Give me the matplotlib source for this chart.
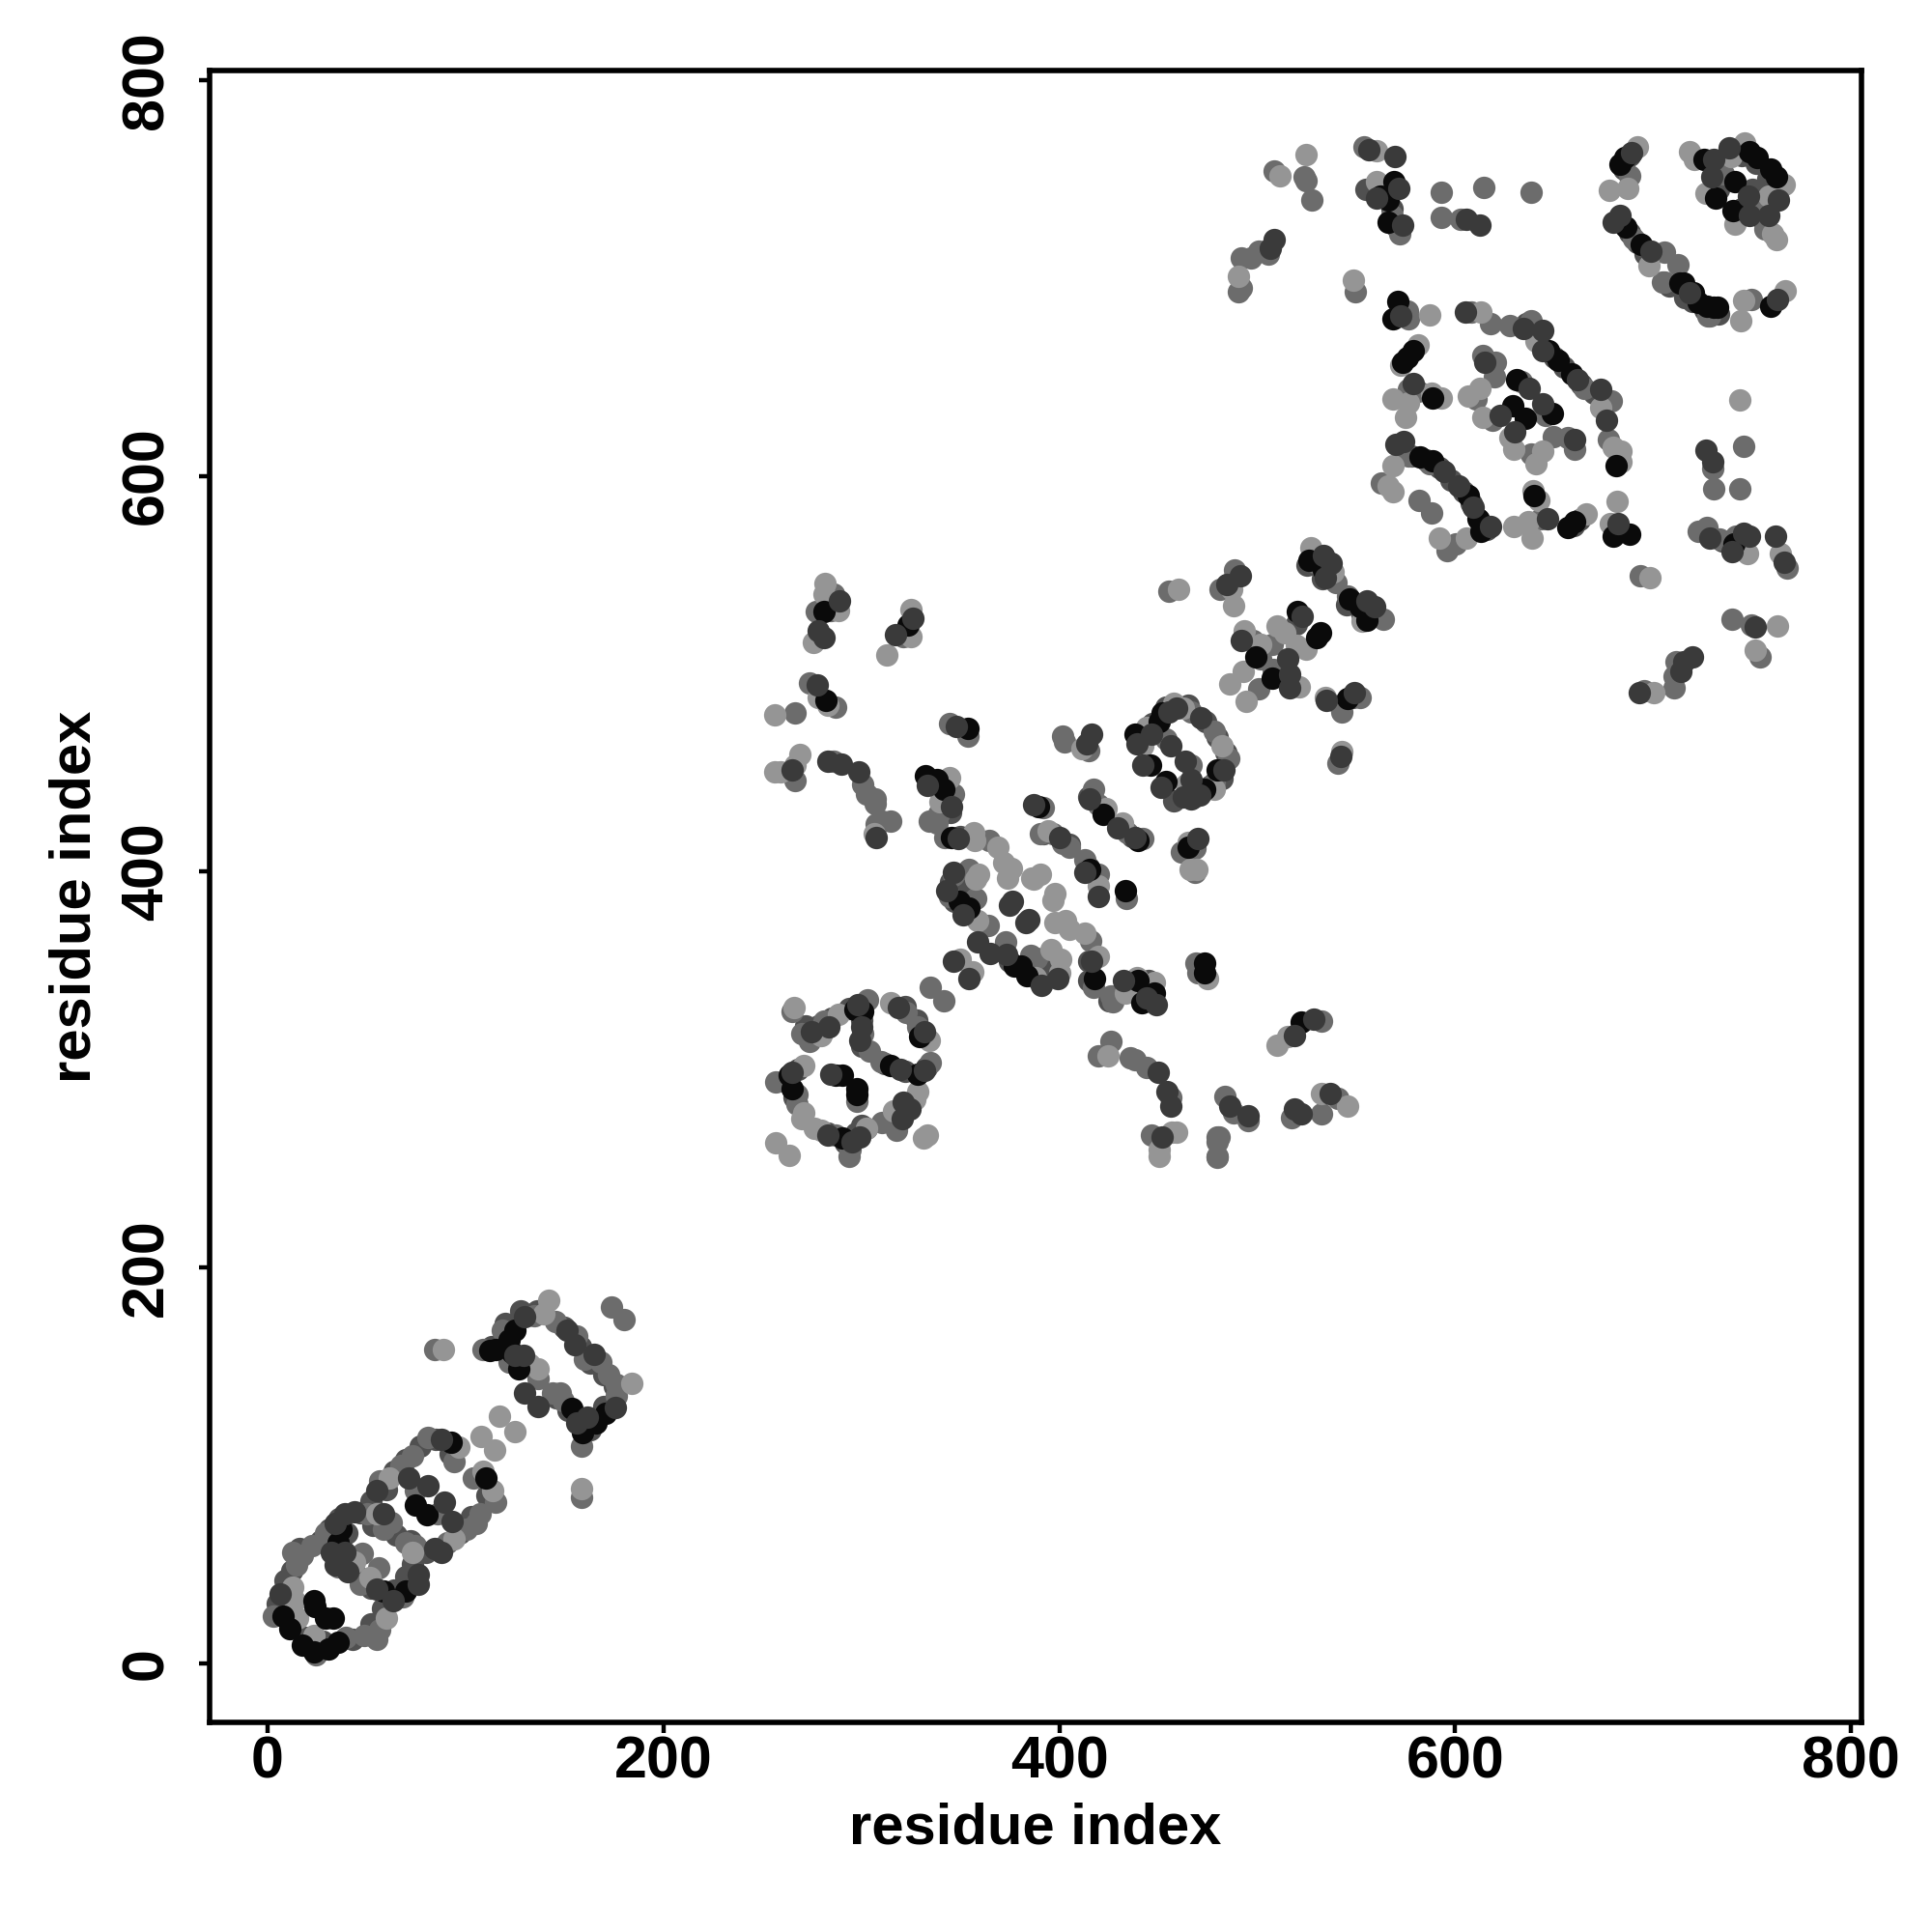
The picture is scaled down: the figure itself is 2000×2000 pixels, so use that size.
import numpy as np
import matplotlib
matplotlib.use('Agg')
import matplotlib.pyplot as plt

plt.rcParams['font.family'] = ['Liberation Sans', 'DejaVu Sans']
plt.rcParams['font.weight'] = 'bold'

# contacts, split by grey level
light_pts = [
    (13.6,31.9),(12.8,38.4),(15.3,23),(23.4,14),(60,23),(94.2,62.8),(108.8,97),(113.7,87.2),
    (43.7,51.4),(51.9,43.3),(61.6,93.7),(96.6,109.2),(55.1,75.8),(73,56.3),(89,158.5),(108,114.5),
    (114.5,107.9),(117,124.9),(125,117),(158.4,88.5),(142.2,183.7),(184,141.7),(139.7,176.7),
    (157.6,123),(132.4,151.5),(136.5,149),
    (256.9,263),(263.4,256.7),(265.8,331.2),(279.6,317.4),(288.6,328),(334.1,315),(314.6,333.7),
    (270.7,278.4),(269.9,275.1),(276.4,270.2),(279.6,269.4),(302.4,270.2),(316.2,279.2),(326.8,284.9),
    (328.4,289),(331.4,265.4),(333.3,267),(270.7,302),
    (349.9,356),(356.4,349.5),(387.8,346.7),(396,360.5),(400,349.1),(400.8,355.6),(397.6,389),
    (396.8,385.7),(397.6,374.4),(403.3,375.2),(404.9,371.1),(413,369),(419.6,357),(433.4,338.6),
    (439.1,346.7),(448,344.3),(357.7,396.3),(374,397),(387,396.3),(419.6,393),(358.5,375.2),
    (424.4,306.8),(457,268.6),(459.4,268.6),(450.4,256.4),(450.4,259.7),(474.9,345.9),
    (509.8,312.5),(515.5,316.6),(532.6,288.1),(545.6,281.6),(465.1,415),(465.9,401.2),(469.6,401.2),
    (281.8,545.6),(281.3,540.2),(288.6,532.1),(275.6,515.8),(324.9,532.6),(324.9,518.6),(313,509.3),
    (278.3,488.2),(282.9,484.1),(256,479.5),(256,450.7),(259.3,450.7),(266.6,454),(269.1,459.2),
    (306.5,419),(344.7,447.5),(339.8,435.3),(356.9,419.8),(357.4,415.8),(368.8,412.5),(372,404.4),
    (375.6,401.5),(386.2,397),(390.3,398.7),(359.4,398.7),(394.3,420.6),(423.6,432),(431.7,424.7),
    (411.4,462.1),(460.2,542.7),
    (457.8,485),(444,472.8),(442.4,463.8),(462.7,482.6),(482.2,463.8),(478.2,441.9),(464.3,444.3),
    (527,563.9),(538.4,551.7),(487.1,542.7),(487.9,534.6),(553,526.5),(524.5,512.6),(519.6,514.3),
    (514,520.8),(509.9,524),(501.7,515.1),(493.6,521.6),(492.8,501.3),(486.3,494.7),(494.4,486.3),
    (521.3,493.6),(534.3,488.2),(542.9,460.6),
    (581.5,666.4),(572.5,655.8),(587.1,681.5),(568.4,638.7),(576.6,637.1),(574.9,629.5),(588,642),
    (592.8,639.2),(613.2,682.7),(640.8,668),(673.4,634.7),(679.9,614.3),(683.9,612.7),(683.9,607),
    (612.4,644.4),(606.7,640.4),(614,629.8),(627.8,619.2),(629.4,613.5),(644.1,612.7),(640.8,606.2),
    (568.4,605.4),(568.4,592),(566,594.8),(592,568.8),(605.9,568.8),(639.2,592.4),(642.5,587.5),
    (629.4,574.5),(636.8,576.9),(638.9,568.5),(666,581),(681.8,587.2),(678.2,576.1),(698.6,548.8),
    (747.9,560.6),(764.5,560.6),(744.1,678.6),(745.8,688.8),(766.9,693.7),(743.8,638.4),(762.8,524.4),
    (751.8,511.8),(700.2,490.6),(524.9,762.4),(511.4,751.5),(560.5,764.5),(560.5,748.6),(490.3,700.6),
    (548.5,698.9),(692.2,766.4),(687.4,745.3),(677.8,744.2),(698,706.2),(718.2,764),(721,759.9),
    (746,768.1),(739.3,761.6),(766.2,747.3),(758.5,741.2),(726.8,742.9),(741.6,727.4),(760.5,722.5),
    (762.4,719.3),
]
mid_pts = [
    (3.1,23.8),(12.8,56.3),(14.5,49.8),(17.7,54.7),(22.6,59.6),(24.2,4.2),(24.2,9.1),(39.7,13.2),
    (48.6,14),(55.1,12.4),(56.8,17.2),(68.1,33.5),(90.9,61.2),(100.7,67.7),(105.6,70.9),(107.2,75.8),
    (115.3,81.5),(103.9,93.7),(86,75.8),(47.8,55.5),(35.6,49),(56,48.2),(47,40),(29.1,66),(50.2,75.8),
    (56.8,92.1),(67.3,100.2),(73,105.1),(81.2,114),(94.2,101.8),(74.6,87.2),(62.4,71),(58.4,67.7),
    (69.8,61.2),(74.6,59.6),(84.4,158.5),(158.4,83.9),(173.9,179.9),(180,173.8),(108.8,158.5),
    (118.6,168.5),(134.8,175.9),(145.4,172.6),(156,165.3),(160,153.9),(168.2,152.3),(172.3,145.8),
    (176.3,140.9),(176.3,135.2),(158.4,110),(147.9,136.8),(143.8,136.8),(149.5,132.8),(121.8,152.3),
    (136.5,144.1),
    (265,329.6),(269.9,318.2),(274,314.2),(281.3,324.7),(303.2,335.3),(300.8,318.2),(304,309.6),
    (309.7,303.9),(335,303.6),(328.4,321.5),(322.8,328.8),(256.9,293.8),(267.4,287.3),(267.4,282.4),
    (287,267),(302.4,270.2),(294,256.4),(294.3,259.7),(297.9,284),(310.6,273.5),(317.9,269.4),
    (335,341.8),(341.8,334.8),(372.7,364.6),(385.4,357.6),(388.6,356.5),(416,365.1),(417.1,341.8),
    (426.1,337),(426.9,334.5),(346.3,398),(357.7,386.6),(344.7,387.4),(364.2,372.7),(418.7,398),
    (433.9,386.6),(419.6,306.8),(426.1,314.2),(435.8,306),(438.3,305.2),(444,301.2),(456.1,286),
    (446.4,267),(479.7,266.2),(479.7,256),(468.4,399.6),(469.2,354),(470,349.1),
    (532.6,324.7),(483.8,286.5),(487.9,278.3),(495.2,274.3),(517.1,275.9),(532.6,277.5),(540.7,285.7),
    (480.5,266.1),(479.7,255.6),(480,263.7),(468.3,411.7),(461.8,410.1),
    (286.1,540.2),(277.2,531.3),(284.5,532.1),(321.1,519),(274,495.5),(287,483.3),(266.6,480),
    (266.6,445.9),(286.1,455.6),(300.8,444.2),(307,436.9),(307,434.5),(302.4,439.4),(307.3,423.9),
    (314.6,425.5),(310.6,425.5),(344.7,475.1),(353.7,468.6),(346.3,439.4),(339,429.6),(334.1,425.5),
    (338.2,424.7),(342.3,417.4),(364.6,415.8),(354.5,401.1),(391.9,432.4),(390.3,419),(404.9,412.5),
    (401.6,414.1),(396.8,419),(412.7,406),(419.6,398.7),(417.1,441.8),(419.6,433.7),(434.2,419.8),
    (442.3,416.6),(401.6,468.6),(402.5,465.4),(414.7,461.3),(455.3,541.8),
    (453.8,467.1),(466.8,480.9),(478.2,471.2),(485.5,457.3),(478.2,445.1),(466.8,454.1),
    (530.2,555.8),(539.7,546),(545.7,539.5),(563.6,527.8),(488.7,552.5),(481.4,542.7),(507.4,515.1),
    (497.7,516.7),(501.7,507.8),(500.9,492.6),(508.3,502),(541.6,484.2),(552.2,488.2),(542.9,480.9),
    (540.8,454.9),
    (575.8,683.5),(576.6,679.4),(581.5,642.8),(576.6,643.6),(608.3,682.7),(618,677),(627.8,676.1),
    (638.4,678.6),(665.2,644.4),(679.1,637.9),(677.4,618.4),(614,660.7),(620.5,657.4),(619.7,650.1),
    (610.7,638.7),(633.5,647.7),(645.7,630.6),(618.9,628.2),(649.8,620),(657.1,619.2),(660.3,613.5),
    (638.4,611.1),(576.6,610.3),(587.1,606.2),(562.7,596.4),(581.8,587.8),(588,581.5),(596.1,562.3),
    (600.2,565.5),(643.3,578.5),(693.7,549.7),(745.7,614.7),(730.3,603.8),(730.6,593.5),(743.8,593.5),
    (723,572),(727,573.7),(733.6,568),(741.7,569.6),(767.7,553.3),(705.9,698.1),(728.7,681),
    (749.8,689.2),(739.7,527.5),(749.5,524.8),(753.9,508.5),(711.6,506),(710.8,498.7),(710.8,492.7),
    (695.3,491.4),(508.5,754.2),(523.9,751),(524.9,749.4),(527.8,739.3),(553.7,766.4),(568.2,731.5),
    (572,722.5),(593.2,743.3),(614.3,745.6),(638.4,743.3),(593.2,730.7),(602.8,729.5),(500.9,713.6),
    (492.2,710.3),(497,710.3),(505.7,712),(492.2,694.9),(490.3,693.2),(549.5,693.2),(688.4,751.8),
    (690.3,720.1),(705.7,713.2),(712.4,706.6),(704.7,698.1),(727.8,681),(735.5,752.6),(750.8,738),
    (756.6,725),
]
dark_pts = [
    (6.3,35.1),(63.3,31.9),(76.3,40),(76.3,44.9),(84.4,57.9),(87.7,56.3),(81.2,89.6),(89.3,81.5),
    (93.4,71.8),(38.9,56.3),(40.5,46.5),(55.1,37.6),(34,70.9),(38.9,75.8),(43.7,76.6),(55.1,87.2),
    (87.7,113.2),(71.4,93.7),(58.4,75.8),(32.4,56.3),(34,49.8),(130,136.8),(136.8,129.8),(130,175),
    (151.1,168.5),(155.2,161.2),(164.9,156.3),(175.5,129.5),(161.7,124.6),(156,121.4),(125,155.5),
    (129.1,155.5),
    (274.8,319),(283.7,321.5),(298.4,332.9),(300,321.5),(299.2,315),(319.5,300.3),(331.7,299.5),
    (331.7,319),(318.7,331.2),(265,298.7),(282.9,267),(295.1,263.7),(299.2,266.2),(284.5,297.9),
    (320.6,275.1),(321.1,283.3),(324.4,280),(346.3,354.8),(354.5,345.9),(365,358.6),(373.2,358),
    (391.1,342.6),(399.2,345.9),(376.4,384.9),(374.8,383.3),(384.6,376),(383,374.4),(416.3,354.8),
    (432.6,345),(448.8,332.9),(444,336.1),(343.1,390.6),(351.2,378.4),(358.5,364.6),(413,399.6),
    (419.6,387.4),(450.1,298.7),(454.5,289),(456.1,281.6),(452.1,266.2),
    (518.8,317.4),(528.5,325.5),(486.2,281.6),(495.2,276.7),(518.8,280),(522,277.5),(536.7,288.1),
    (470,416.6),(288.9,537),(278,521.5),(280.9,518.3),(326,528.3),(317,519.6),(277.7,494.2),
    (265,451.5),(282.9,455.6),(289.9,454.5),(298.8,450.3),(307.3,417.4),(348,473.5),(333.3,443.4),
    (345.5,432.9),(348.8,416.6),(346.3,399.5),(387,433.7),(400,417.4),(415.5,436.9),(429.3,422.3),
    (438.3,417.4),(416.3,469.5),(413.9,464.6),
    (455.4,480.9),(446.4,469.5),(439.1,464.6),(456.2,463.5),(471.7,477.7),(459.4,482.6),(483,451.6),
    (466.8,446.8),(462.7,437.8),(466.8,437),(470.8,438.6),(442.4,454.1),(451.3,442.7),(463.5,455.7),
    (533.5,559.8),(537.5,555.8),(534.3,548.4),(555.4,537),(559.5,533.8),(491.5,549.6),(484.7,545.2),
    (522.9,528.9),(515.6,507.8),(492,516.7),(516.4,499.6),(516.4,493.1),(535.1,486.6),(548.9,490.7),
    (542.4,458.1),
    (572.5,681),(579,646.9),(605,682.7),(634.3,674.5),(644.1,673.7),(644.1,663.1),(662,648.5),
    (673.4,643.6),(676.6,628.2),(614.8,657.4),(637.6,644.4),(644.1,636.3),(622.9,630.6),(630.3,622.5),
    (660.3,618.4),(570,616),(574.1,617.6),(594.5,602.1),(601.8,594.8),(609.1,584.2),(618,574.5),
    (646.5,578.5),(682.3,576.1),(726.7,613),(730,607),(728.7,568.8),(745.7,571.2),(748.5,569.6),
    (740.1,561.5),(761.7,569.6),(766.1,556.6),(762.8,689.2),(751.8,523.6),(719.7,508.5),(715.7,506),
    (714,501.2),(692.9,490.6),(556.6,764.8),(569.5,761.6),(571.6,745.3),(560.5,740.4),(573.4,726.6),
    (605.7,729.5),(612.4,726.6),(508.5,719.6),(506.6,715.2),(689.3,763.2),(683.5,731.5),(679.7,728.2),
    (698.9,713.6),(718.2,692.4),(738.4,765.6),(730.7,759.9),(763.4,739.3),(729.7,751),(748,741.2),
    (748.9,731.5),(758.5,731.5),
]
black_pts = [
    (11.2,17.3),(7.9,23.8),(17.7,9.1),(23.4,5.9),(30.7,7.5),(35.6,10.7),(58.4,36.8),(69.8,36.8),
    (110.4,93.7),(23.4,31.9),(23.9,28.6),(29.1,23),(33.2,23),(74.6,79.9),(80.3,75),(35.6,61.2),
    (37.2,67.7),(92.5,111.6),(115.3,158.8),(112,158),(121.8,163.7),(125,168.5),(170.6,126.2),
    (165.7,121.4),(159.2,116.5),(153.5,128.7),(123.4,157.2),(126.7,149),
    (296.7,330.4),(300.8,329.6),(314.6,302),(328.4,297.9),(329.3,316.6),(263.4,297),(265,290.6),
    (290.2,265.4),(287,297.4),(290.2,297),(297.5,290.6),(297.5,287.3),(377.3,352.4),(380.5,352.4),
    (383.8,347.5),(417.6,345.9),(439.9,345),(448,338.6),(441.5,333.7),(433.4,390.6),(349.6,385),
    (354.5,381.7),(473.2,354),(473.2,349.1),
    (522,323.9),(465.1,412.5),(281.3,531.3),(323.6,524.8),(282.1,486.5),(354,472.4),(332.5,448.3),
    (338.2,446.7),(341.5,441.8),(345.5,417.4),(389.4,432.9),(415.5,401.1),(422,428.8),(439.9,415.8),
    (452.1,480.1),(450.5,476),(438.3,469.5),(479.8,451.6),(473.3,441.9),(446,453.8),(453.8,445.5),
    (526.2,557.4),(533.5,552.5),(546.5,537.9),(552.2,533.8),(555.4,527.3),(520.5,531.4),(531.8,520.8),
    (530.2,518.3),(499.3,508.6),(507.4,498),(545.7,487.4),
    (570.9,688.3),(568.4,679.4),(579,663.1),(575.8,659.9),(573.3,657.4),(588.8,639.5),(647.3,663.1),
    (652.2,658.2),(658.7,651.7),(681.5,605.4),(631.1,648.5),(649,631.4),(628.9,635.5),(635.6,629),
    (582.3,609.4),(588.8,607.8),(606.7,589.9),(611.5,578.5),(613.2,572),(640,589.9),(660.4,577),
    (657.1,573.7),(679.9,569.6),(688.3,570.7),(740.9,565.5),(715.7,697.3),(720.5,692.4),(727,685.9),
    (732.7,685.1),(759.6,685.9),(569.1,748.6),(562.4,741.2),(566.2,739.6),(566.2,728.2),(685.5,760.8),
    (683.5,757.5),(686.4,725.8),(694.1,716.8),(713.4,697.3),(723,687.5),(730.7,685.1),(725.9,759.9),
    (748.9,764),(752.8,760.8),(759.5,755),(762.4,751),(741.2,748.6),(731.6,740.4),(740.3,733.9),
]
# contacts that sit half hidden inside the dense bands
under_pts = [
    (5,30),(9,42),(12,47),(19,13),(28,11),(43,12),(52,20),(58,28),(64,37),(70,44),(73,50),(80,56),
    (97,66),(103,74),(111,85),(16,58),(27,62),(31,68),(36,73),(47,76),(52,82),(60,88),(64,97),(70,103),
    (77,110),(85,113),(92,106),(36,58),(44,46),(52,38),(60,34),(40,66),(53,70),(65,65),(72,62),
    (113,160),(120,172),(128,178),(136,178),(150,170),(158,160),(163,152),(170,146),(175,140),
    (170,130),(163,118),(160,122),(152,128),(146,134),(127,150),(120,160),
    (268,300),(262,294),(266,286),(283,268),(292,263),(297,268),(300,272),(272,322),(278,322),
    (285,326),(294,331),(300,325),(300,312),(312,303),(322,299),(333,301),(322,332),(328,325),(330,318),
    (441,468),(447,475),(454,483),(465,484),(474,476),(480,468),(484,460),(482,447),(476,443),
    (468,438),(458,436),
    (688,723),(692,718),(696,712),(708,696),(716,690),(720,688),(726,684),(733,682),(655,655),
    (664,646),(670,642),(650,660),(636,677),(578,610),(585,608),(592,604),(598,598),(604,592),
    (608,586),(612,578),(616,573),(660,575),(663,578),(735,567),(745,762),(752,758),(758,750),
    (762,745),(750,745),(745,735),(733,745),(755,730),(685,755),(688,762),(555,745),(568,735),(570,726),
    (340,445),(345,430),(350,418),(385,352),(395,350),(390,345),(347,385),(352,380),(345,395),(352,395),
    (375,355),(425,335),(440,340),(445,335),(445,345),(415,345),(415,355),(392,419),(405,414),(415,402),
    (430,423),(437,418),(415,438),(335,445),(525,555),(533,548),(545,535),(553,530),(485,545),(490,550),
    (548,488),(520,525),
]
tick_vals = [0, 200, 400, 600, 800]

fig = plt.figure(figsize=(10, 10), dpi=200)
ax = fig.add_axes([0.1085, 0.1085, 0.855, 0.855])

# light under the dark ones here, most of the blobs read dark in the original
groups = [(under_pts, '#505050'), (mid_pts, '#6c6c6c'), (light_pts, '#959595'),
          (black_pts, '#0a0a0a'), (dark_pts, '#3a3a3a')]
for pts, col in groups:
    arr = np.array(pts)
    ax.scatter(arr[:, 0], arr[:, 1], s=70, c=col, linewidths=0)

ax.set_xlim(-29.3, 805.3)
ax.set_ylim(-29.8, 804.8)
ax.set_xticks(tick_vals)
ax.set_yticks(tick_vals)
ax.tick_params(axis='both', length=3.8, width=1.6, labelsize=22)
ax.tick_params(axis='x', pad=1)
ax.tick_params(axis='y', pad=9)
plt.setp(ax.get_yticklabels(), rotation=90, va='center')
for s in ax.spines.values():
    s.set_linewidth(2.0)

ax.set_xlabel('residue index', fontsize=21.5, fontweight='bold', labelpad=4.5)
ax.set_ylabel('residue index', fontsize=21.5, fontweight='bold', labelpad=7)

fig.savefig('out.png', dpi=200)
